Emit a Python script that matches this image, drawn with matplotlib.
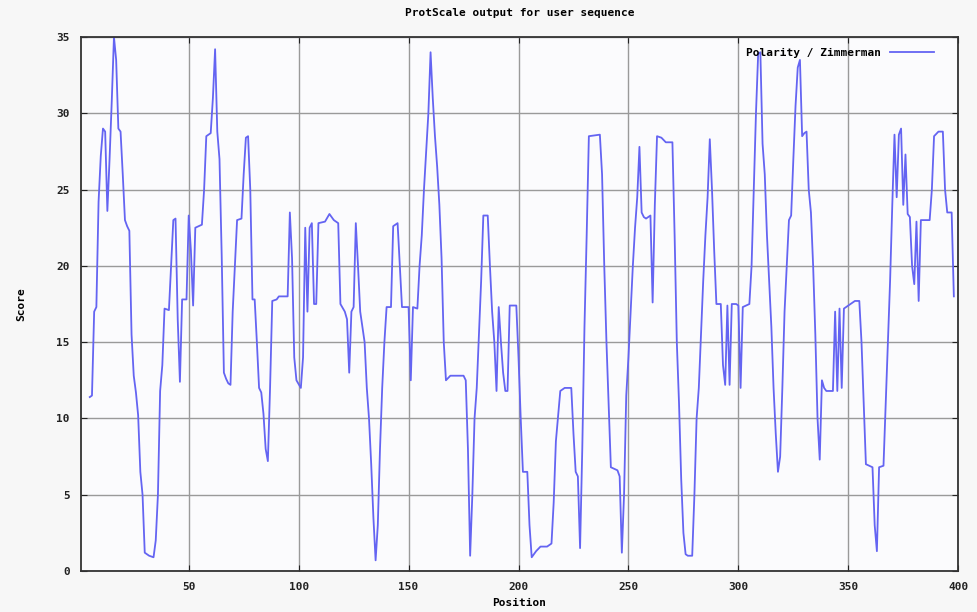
"""
ProtScale polarity profile (Zimmerman scale) redrawn in matplotlib,
gnuplot look: inward ticks, solid grey grid, thin blue trace.
"""

import matplotlib
matplotlib.use("Agg")
import matplotlib.pyplot as plt
import matplotlib.ticker as mticker

# ---------------------------------------------------------------------------
# Data: trace vertices (position, score)
# ---------------------------------------------------------------------------

positions = [
    5, 6, 7, 8, 9, 10, 11, 12, 13, 14, 15, 16, 17, 18, 19, 20, 21, 22, 23, 24,
    25, 26, 27, 28, 29, 30, 32, 34, 35, 36, 37, 38, 39, 41, 42, 43, 44, 45, 46, 47,
    49, 50, 51, 52, 53, 56, 57, 58, 60, 61, 62, 63, 64, 65, 66, 67, 68, 69, 70, 71,
    72, 74, 75, 76, 77, 78, 79, 80, 81, 82, 83, 84, 85, 86, 87, 88, 90, 91, 95, 96,
    97, 98, 99, 101, 102, 103, 104, 105, 106, 107, 108, 109, 112, 114, 116, 118, 119, 121, 122, 123,
    124, 125, 126, 127, 128, 130, 131, 132, 133, 134, 135, 136, 137, 138, 139, 140, 142, 143, 145, 146,
    147, 150, 151, 152, 154, 155, 156, 157, 158, 159, 160, 161, 162, 163, 164, 165, 166, 167, 169, 175,
    176, 177, 178, 179, 180, 181, 182, 183, 184, 186, 187, 188, 189, 190, 191, 192, 193, 194, 195, 196,
    199, 200, 201, 202, 204, 205, 206, 208, 210, 213, 215, 216, 217, 219, 221, 224, 225, 226, 227, 228,
    229, 230, 231, 232, 237, 238, 239, 240, 241, 242, 245, 246, 247, 248, 249, 250, 251, 252, 253, 254,
    255, 256, 257, 258, 260, 261, 262, 263, 265, 267, 270, 271, 272, 273, 274, 275, 276, 277, 279, 280,
    281, 282, 283, 284, 285, 286, 287, 288, 289, 290, 292, 293, 294, 295, 296, 297, 299, 300, 301, 302,
    305, 306, 307, 308, 309, 310, 311, 312, 313, 314, 315, 316, 317, 318, 319, 320, 321, 322, 323, 324,
    325, 326, 327, 328, 329, 330, 331, 332, 333, 334, 335, 336, 337, 338, 339, 340, 343, 344, 345, 346,
    347, 348, 351, 353, 355, 356, 357, 358, 361, 362, 363, 364, 366, 367, 368, 369, 370, 371, 372, 373,
    374, 375, 376, 377, 378, 379, 380, 381, 382, 383, 387, 388, 389, 391, 393, 394, 395, 397, 398,
]

scores = [
    11.4, 11.5, 17.0, 17.3, 24.2, 27.2, 29.0, 28.8, 23.6, 27.0, 30.8, 35.0, 33.5, 29.0, 28.8, 26.0, 23.0, 22.6, 22.3, 15.5,
    12.8, 11.7, 10.2, 6.5, 5.0, 1.2, 1.0, 0.9, 2.0, 5.0, 11.8, 13.5, 17.2, 17.1, 20.0, 23.0, 23.1, 16.5, 12.4, 17.8,
    17.8, 23.3, 21.0, 17.4, 22.5, 22.7, 25.0, 28.5, 28.7, 31.0, 34.2, 28.8, 27.0, 20.7, 13.0, 12.6, 12.3, 12.2, 17.0, 20.0,
    23.0, 23.1, 26.0, 28.4, 28.5, 25.0, 17.8, 17.8, 15.0, 12.0, 11.7, 10.3, 8.0, 7.2, 12.0, 17.7, 17.8, 18.0, 18.0, 23.5,
    20.5, 14.0, 12.5, 12.0, 14.0, 22.5, 17.0, 22.5, 22.8, 17.5, 17.5, 22.8, 22.9, 23.4, 23.0, 22.8, 17.5, 17.0, 16.5, 13.0,
    17.0, 17.3, 22.8, 20.0, 17.0, 15.0, 12.0, 10.0, 7.0, 3.5, 0.7, 3.0, 8.0, 12.0, 15.0, 17.3, 17.3, 22.6, 22.8, 20.0,
    17.3, 17.3, 12.5, 17.3, 17.2, 20.0, 22.0, 25.0, 27.5, 30.0, 34.0, 31.0, 28.5, 26.5, 24.0, 20.5, 15.0, 12.5, 12.8, 12.8,
    12.5, 8.0, 1.0, 5.0, 10.0, 12.0, 15.5, 19.0, 23.3, 23.3, 20.0, 17.0, 15.0, 11.8, 17.3, 15.0, 13.0, 11.8, 11.8, 17.4,
    17.4, 14.0, 10.0, 6.5, 6.5, 3.0, 0.9, 1.3, 1.6, 1.6, 1.8, 4.5, 8.5, 11.8, 12.0, 12.0, 9.0, 6.5, 6.2, 1.5,
    8.0, 16.0, 22.0, 28.5, 28.6, 26.0, 20.0, 15.0, 11.0, 6.8, 6.6, 6.2, 1.2, 5.0, 11.5, 14.0, 17.0, 20.0, 22.5, 24.5,
    27.8, 23.5, 23.2, 23.1, 23.3, 17.6, 24.0, 28.5, 28.4, 28.1, 28.1, 22.0, 15.0, 11.0, 6.0, 2.5, 1.1, 1.0, 1.0, 5.0,
    10.0, 12.0, 15.5, 19.0, 22.0, 24.5, 28.3, 25.0, 21.0, 17.5, 17.5, 13.5, 12.2, 17.4, 12.2, 17.5, 17.5, 17.4, 12.0, 17.3,
    17.5, 20.0, 25.0, 30.0, 33.9, 34.0, 28.0, 26.0, 22.0, 19.0, 16.0, 12.0, 9.0, 6.5, 7.5, 12.0, 17.0, 20.0, 23.0, 23.3,
    27.0, 30.5, 33.0, 33.5, 28.5, 28.7, 28.8, 25.0, 23.5, 20.0, 15.5, 10.0, 7.3, 12.5, 12.0, 11.8, 11.8, 17.0, 11.8, 17.2,
    12.0, 17.2, 17.5, 17.7, 17.7, 15.0, 11.0, 7.0, 6.8, 3.0, 1.3, 6.8, 6.9, 11.0, 15.0, 19.0, 24.0, 28.6, 24.5, 28.6,
    29.0, 24.0, 27.3, 23.4, 23.2, 20.0, 18.8, 22.9, 17.7, 23.0, 23.0, 25.0, 28.5, 28.8, 28.8, 25.0, 23.5, 23.5, 18.0,
]

series_label = "Polarity / Zimmerman"
title = "ProtScale output for user sequence"
x_ticks = [50, 100, 150, 200, 250, 300, 350, 400]
y_ticks = [0, 5, 10, 15, 20, 25, 30, 35]


def main():
    font = {"family": "DejaVu Sans Mono", "weight": "bold", "size": 8}
    plt.rcParams["font.family"] = "DejaVu Sans Mono"
    plt.rcParams["font.weight"] = "bold"
    plt.rcParams["font.size"] = 8

    fig = plt.figure(figsize=(9.78, 6.12), dpi=100, facecolor="#f7f7f7")
    ax = fig.add_axes([0.0828, 0.067, 0.897, 0.8725], facecolor="#fbfbfd")

    ax.plot(positions, scores, color="#6464f2", linewidth=1.3, label=series_label)

    ax.set_xlim(1, 400)
    ax.set_ylim(0, 35)
    ax.xaxis.set_major_locator(mticker.FixedLocator(x_ticks))
    ax.yaxis.set_major_locator(mticker.FixedLocator(y_ticks))
    ax.grid(True, color="#9a9a9a", linewidth=1.0)
    ax.set_axisbelow(True)
    ax.tick_params(direction="in", top=True, right=True, length=4,
                   labelsize=8, pad=8, colors="#222222")
    for s in ax.spines.values():
        s.set_linewidth(1.3)
        s.set_color("#333333")

    ax.set_title(title, fontdict=font, pad=15)
    ax.set_xlabel("Position", fontdict=font, labelpad=4)
    ax.set_ylabel("Score", fontdict=font, labelpad=22)

    ax.legend(loc="upper right", frameon=False, markerfirst=False,
              handlelength=4.0, fontsize=8, borderaxespad=0.6,
              bbox_to_anchor=(0.985, 1.0))

    plt.savefig("out.png", dpi=100, facecolor=fig.get_facecolor())
    plt.close()


if __name__ == "__main__":
    main()
